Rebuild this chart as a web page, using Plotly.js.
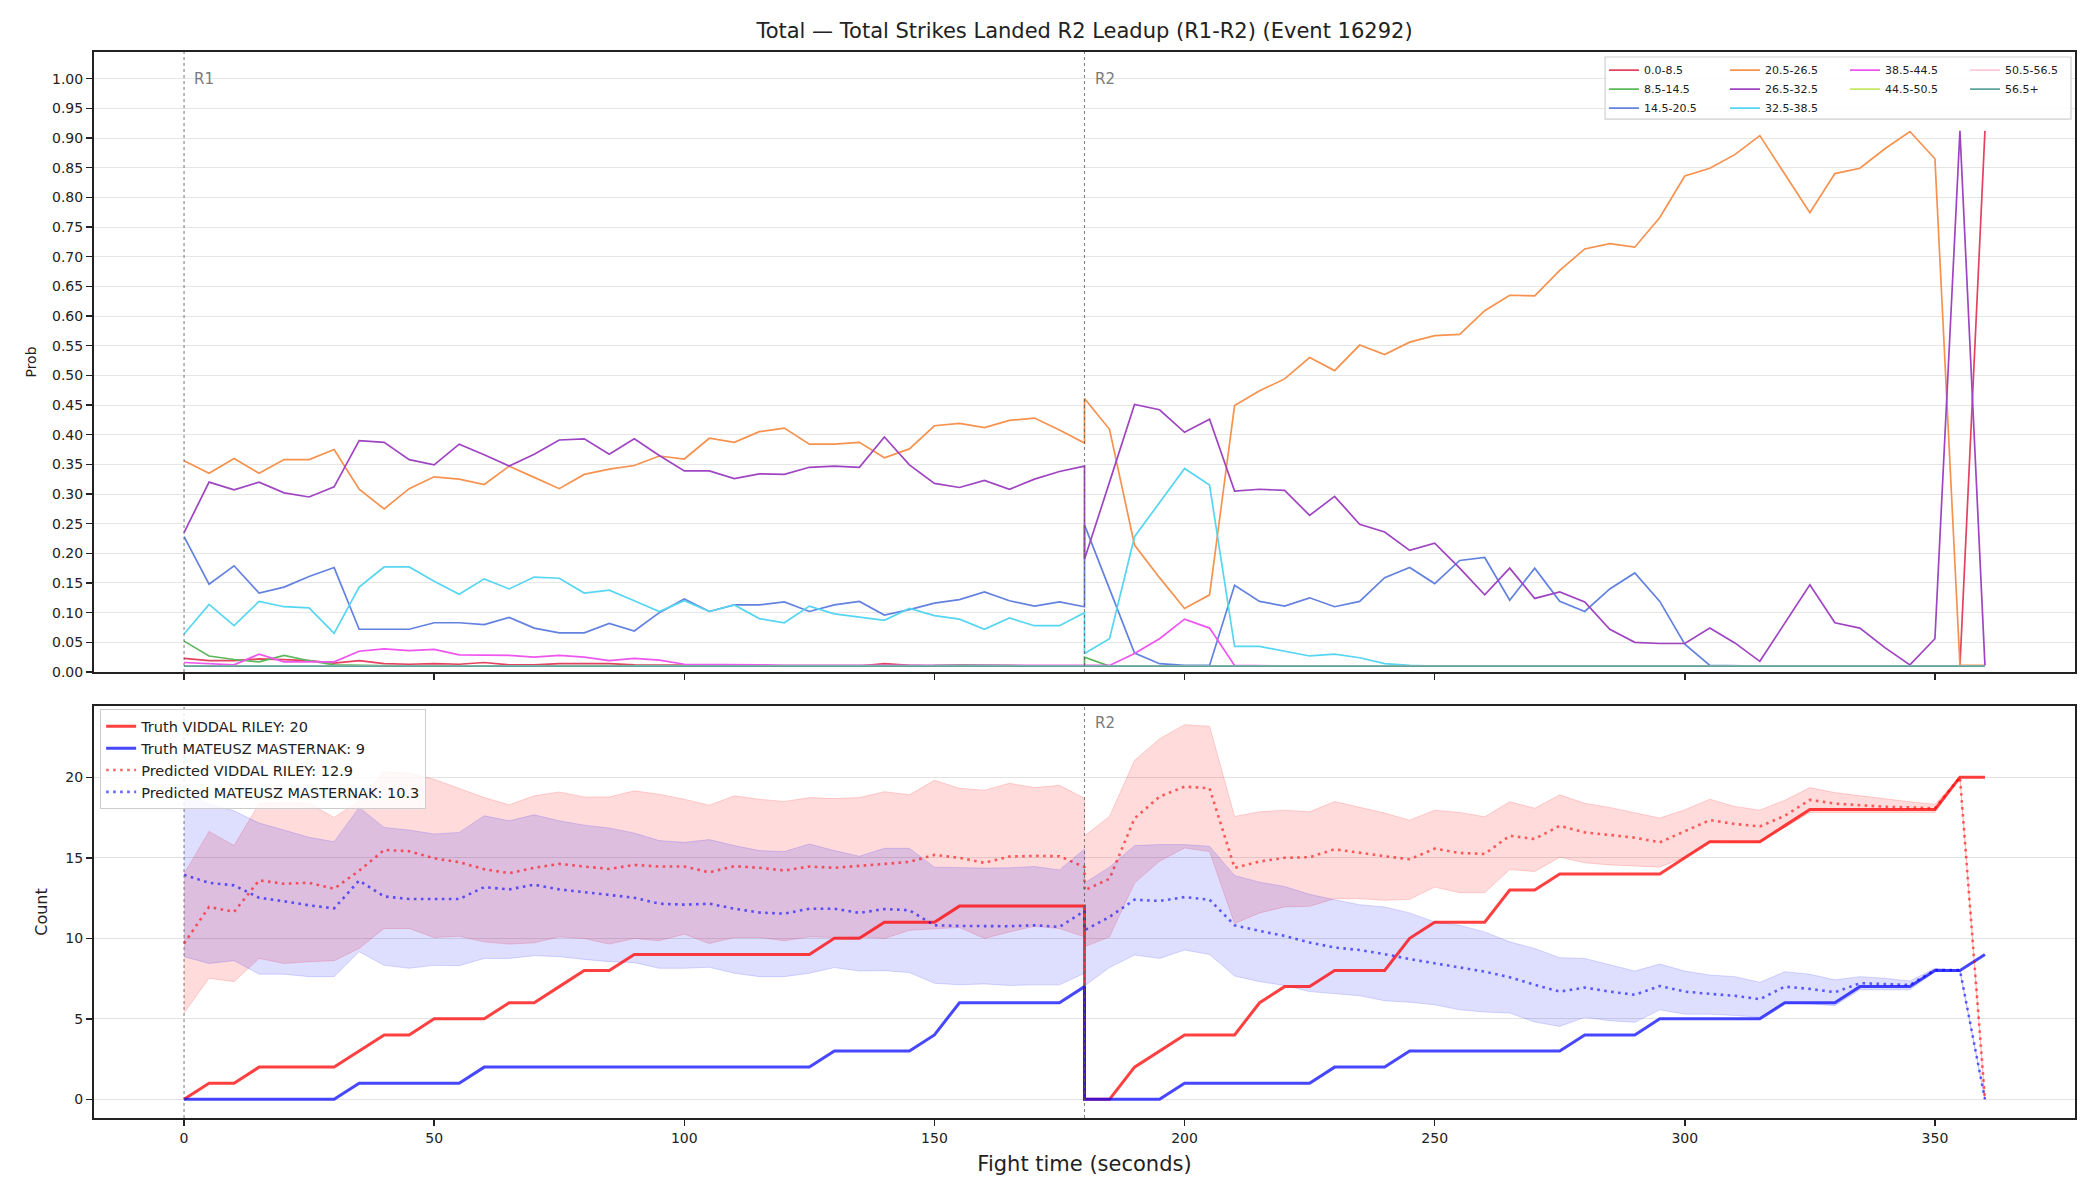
<!DOCTYPE html>
<html><head><meta charset="utf-8">
<script src="https://cdn.plot.ly/plotly-3.0.1.min.js"></script>
<style>html,body{margin:0;padding:0;background:#fff}</style>
</head><body><div id="chart" style="width:2100px;height:1200px"></div>
<script>
// ---------------- DATA ----------------
const chartTitle = 'Total — Total Strikes Landed R2 Leadup (R1-R2) (Event 16292)';
const roundLabels = ['R1', 'R2'];
const roundStarts = [0, 180];

const timeR1 = [0,5,10,15,20,25,30,35,40,45,50,55,60,65,70,75,80,85,90,95,100,105,110,115,120,125,130,135,140,145,150,155,160,165,170,175,180];
const timeR2 = [180,185,190,195,200,205,210,215,220,225,230,235,240,245,250,255,260,265,270,275,280,285,290,295,300,305,310,315,320,325,330,335,340,345,350,355,360];

const binLabels = ['0.0-8.5','8.5-14.5','14.5-20.5','20.5-26.5','26.5-32.5','32.5-38.5','38.5-44.5','44.5-50.5','50.5-56.5','56.5+'];

const pBin0R1 = [0.023,0.019,0.019,0.022,0.021,0.019,0.015,0.019,0.014,0.013,0.014,0.013,0.016,0.012,0.012,0.014,0.014,0.014,0.012,0.012,0.011,0.011,0.011,0.011,0.010,0.010,0.010,0.010,0.014,0.011,0.010,0.010,0.010,0.010,0.010,0.010,0.010];
const pBin0R2 = [0.01,0.01,0.01,0.01,0.01,0.01,0.01,0.01,0.01,0.01,0.01,0.01,0.01,0.01,0.01,0.01,0.01,0.01,0.01,0.01,0.01,0.01,0.01,0.01,0.01,0.01,0.01,0.01,0.01,0.01,0.01,0.01,0.01,0.01,0.01,0.01,0.912];

const pBin1R1 = [0.052,0.027,0.021,0.017,0.028,0.019,0.012,0.011,0.010,0.010,0.010,0.010,0.010,0.010,0.010,0.010,0.010,0.010,0.010,0.010,0.010,0.010,0.010,0.010,0.010,0.010,0.010,0.010,0.010,0.010,0.011,0.012,0.012,0.011,0.010,0.010,0.010];
const pBin1R2 = [0.025,0.01,0.01,0.01,0.01,0.01,0.01,0.01,0.01,0.01,0.01,0.01,0.01,0.01,0.01,0.01,0.01,0.01,0.01,0.01,0.01,0.01,0.01,0.01,0.01,0.01,0.01,0.01,0.01,0.01,0.01,0.01,0.01,0.01,0.01,0.01,0.01];

const pBin2R1 = [0.228,0.148,0.179,0.133,0.143,0.161,0.176,0.072,0.072,0.072,0.083,0.083,0.080,0.092,0.074,0.066,0.066,0.082,0.069,0.100,0.123,0.102,0.113,0.113,0.118,0.102,0.113,0.119,0.096,0.105,0.116,0.122,0.135,0.120,0.111,0.118,0.110];
const pBin2R2 = [0.248,0.140,0.032,0.014,0.011,0.011,0.146,0.119,0.111,0.125,0.110,0.119,0.159,0.176,0.149,0.188,0.193,0.121,0.175,0.119,0.102,0.140,0.167,0.119,0.047,0.011,0.010,0.010,0.010,0.010,0.010,0.010,0.010,0.010,0.010,0.010,0.010];

const pBin3R1 = [0.356,0.335,0.360,0.335,0.358,0.358,0.375,0.308,0.275,0.309,0.329,0.325,0.316,0.347,0.328,0.309,0.333,0.342,0.348,0.364,0.359,0.394,0.387,0.405,0.411,0.384,0.384,0.387,0.361,0.376,0.415,0.419,0.412,0.424,0.428,0.408,0.386];
const pBin3R2 = [0.461,0.409,0.214,0.159,0.107,0.130,0.449,0.474,0.494,0.530,0.508,0.551,0.535,0.556,0.567,0.569,0.609,0.635,0.634,0.677,0.713,0.722,0.716,0.766,0.836,0.849,0.872,0.904,0.839,0.774,0.840,0.849,0.882,0.911,0.865,0.011,0.011];

const pBin4R1 = [0.235,0.320,0.307,0.320,0.302,0.295,0.312,0.390,0.387,0.358,0.349,0.384,0.366,0.347,0.367,0.391,0.393,0.367,0.393,0.365,0.339,0.339,0.326,0.334,0.333,0.345,0.347,0.345,0.396,0.349,0.318,0.311,0.323,0.308,0.325,0.338,0.347];
const pBin4R2 = [0.190,0.320,0.451,0.442,0.404,0.426,0.305,0.308,0.306,0.264,0.296,0.249,0.236,0.205,0.217,0.175,0.130,0.175,0.124,0.135,0.118,0.072,0.050,0.048,0.048,0.074,0.049,0.018,0.083,0.147,0.083,0.074,0.041,0.012,0.056,0.912,0.011];

const pBin5R1 = [0.064,0.114,0.078,0.119,0.110,0.108,0.065,0.143,0.177,0.177,0.153,0.131,0.157,0.140,0.160,0.158,0.133,0.138,0.120,0.102,0.120,0.102,0.113,0.090,0.083,0.111,0.098,0.092,0.087,0.107,0.095,0.089,0.072,0.091,0.078,0.078,0.100];
const pBin5R2 = [0.031,0.056,0.228,0.286,0.343,0.315,0.043,0.043,0.035,0.027,0.030,0.024,0.014,0.011,0.01,0.01,0.01,0.01,0.01,0.01,0.01,0.01,0.01,0.01,0.01,0.01,0.01,0.01,0.01,0.01,0.01,0.01,0.01,0.01,0.01,0.01,0.01];

const pBin6R1 = [0.016,0.014,0.012,0.030,0.017,0.017,0.017,0.035,0.039,0.036,0.038,0.029,0.029,0.028,0.025,0.028,0.025,0.019,0.023,0.020,0.013,0.013,0.012,0.012,0.011,0.011,0.011,0.011,0.011,0.011,0.010,0.010,0.010,0.010,0.010,0.010,0.010];
const pBin6R2 = [0.010,0.011,0.031,0.056,0.089,0.074,0.011,0.01,0.01,0.01,0.01,0.01,0.01,0.01,0.01,0.01,0.01,0.01,0.01,0.01,0.01,0.01,0.01,0.01,0.01,0.01,0.01,0.01,0.01,0.01,0.01,0.01,0.01,0.01,0.01,0.01,0.01];

const pBin7R1 = [0.01,0.01,0.01,0.01,0.01,0.01,0.01,0.01,0.01,0.01,0.01,0.01,0.01,0.01,0.01,0.01,0.01,0.01,0.01,0.01,0.01,0.01,0.01,0.01,0.01,0.01,0.01,0.01,0.01,0.01,0.01,0.01,0.01,0.01,0.01,0.01,0.01];
const pBin7R2 = [0.01,0.01,0.01,0.01,0.01,0.01,0.01,0.01,0.01,0.01,0.01,0.01,0.01,0.01,0.01,0.01,0.01,0.01,0.01,0.01,0.01,0.01,0.01,0.01,0.01,0.01,0.01,0.01,0.01,0.01,0.01,0.01,0.01,0.01,0.01,0.01,0.01];
const pBin8R1 = [0.01,0.01,0.01,0.01,0.01,0.01,0.01,0.01,0.01,0.01,0.01,0.01,0.01,0.01,0.01,0.01,0.01,0.01,0.01,0.01,0.01,0.01,0.01,0.01,0.01,0.01,0.01,0.01,0.01,0.01,0.01,0.01,0.01,0.01,0.01,0.01,0.01];
const pBin8R2 = [0.01,0.01,0.01,0.01,0.01,0.01,0.01,0.01,0.01,0.01,0.01,0.01,0.01,0.01,0.01,0.01,0.01,0.01,0.01,0.01,0.01,0.01,0.01,0.01,0.01,0.01,0.01,0.01,0.01,0.01,0.01,0.01,0.01,0.01,0.01,0.01,0.01];
const pBin9R1 = [0.01,0.01,0.01,0.01,0.01,0.01,0.01,0.01,0.01,0.01,0.01,0.01,0.01,0.01,0.01,0.01,0.01,0.01,0.01,0.01,0.01,0.01,0.01,0.01,0.01,0.01,0.01,0.01,0.01,0.01,0.01,0.01,0.01,0.01,0.01,0.01,0.01];
const pBin9R2 = [0.01,0.01,0.01,0.01,0.01,0.01,0.01,0.01,0.01,0.01,0.01,0.01,0.01,0.01,0.01,0.01,0.01,0.01,0.01,0.01,0.01,0.01,0.01,0.01,0.01,0.01,0.01,0.01,0.01,0.01,0.01,0.01,0.01,0.01,0.01,0.01,0.01];

const fighterNames = ['VIDDAL RILEY', 'MATEUSZ MASTERNAK'];
const truthFinal = ['20', '9'];
const predFinal = ['12.9', '10.3'];

const truthRedR1 = [0,1,1,2,2,2,2,3,4,4,5,5,5,6,6,7,8,8,9,9,9,9,9,9,9,9,10,10,11,11,11,12,12,12,12,12,12];
const truthRedR2 = [0,0,2,3,4,4,4,6,7,7,8,8,8,10,11,11,11,13,13,14,14,14,14,14,15,16,16,16,17,18,18,18,18,18,18,20,20];
const truthBlueR1 = [0,0,0,0,0,0,0,1,1,1,1,1,2,2,2,2,2,2,2,2,2,2,2,2,2,2,3,3,3,3,4,6,6,6,6,6,7];
const truthBlueR2 = [0,0,0,0,1,1,1,1,1,1,2,2,2,3,3,3,3,3,3,3,4,4,4,5,5,5,5,5,6,6,6,7,7,7,8,8,9];

const predRedR1 = [9.68,11.95,11.64,13.6,13.39,13.45,13.08,14.2,15.49,15.41,14.97,14.73,14.29,14.05,14.38,14.62,14.46,14.31,14.56,14.46,14.46,14.1,14.48,14.38,14.21,14.46,14.38,14.48,14.62,14.75,15.18,15.0,14.69,15.08,15.12,15.10,14.42];
const predRedR2 = [12.98,13.7,17.45,18.8,19.42,19.32,14.38,14.77,15.0,15.04,15.53,15.3,15.1,14.91,15.57,15.3,15.24,16.37,16.17,16.99,16.58,16.42,16.25,15.96,16.66,17.34,17.1,16.95,17.61,18.6,18.37,18.25,18.17,18.13,18.08,20.0,0];
const predBlueR1 = [13.94,13.45,13.29,12.52,12.30,12.05,11.86,13.59,12.6,12.44,12.44,12.44,13.18,13.04,13.33,13.04,12.87,12.71,12.52,12.15,12.09,12.15,11.84,11.6,11.53,11.84,11.84,11.58,11.82,11.74,10.81,10.77,10.75,10.75,10.81,10.71,11.7];
const predBlueR2 = [10.5,11.33,12.4,12.32,12.56,12.4,10.81,10.46,10.15,9.74,9.43,9.27,9.02,8.71,8.44,8.2,7.93,7.58,7.11,6.69,6.94,6.69,6.49,7.04,6.69,6.55,6.43,6.22,7.0,6.86,6.65,7.21,7.15,7.11,8.03,8.03,0];

const redUpperR1 = [14.0,16.64,15.76,18.37,18.43,18.37,17.51,18.54,20.35,20.25,19.88,19.3,18.74,18.29,18.85,19.09,18.78,18.78,19.16,18.95,18.64,18.27,18.85,18.64,18.5,18.74,18.68,18.74,19.11,18.91,19.81,19.32,19.2,19.63,19.36,19.5,18.7];
const redUpperR2 = [16.37,17.57,21.05,22.39,23.27,23.17,17.57,17.86,17.96,17.86,18.5,18.13,17.78,17.34,17.96,17.82,17.55,18.48,18.08,18.91,18.39,18.13,17.82,17.47,17.98,18.64,18.19,17.96,18.58,19.36,19.05,18.85,18.68,18.48,18.33,20.0,0];
const redLowerR1 = [5.36,7.52,7.31,8.75,8.44,8.55,8.61,9.37,10.61,10.61,10.05,10.13,9.78,9.64,9.72,10.09,9.99,9.64,9.99,9.85,10.26,9.68,10.05,10.05,9.85,10.09,10.05,10.09,9.99,10.5,10.59,10.67,9.99,10.4,10.75,10.61,10.09];
const redLowerR2 = [9.47,10.09,13.43,14.79,15.61,15.39,10.92,11.58,11.95,11.99,12.46,12.46,12.36,12.42,13.18,12.83,12.83,14.27,14.15,15.04,14.69,14.56,14.48,14.42,15.04,16.02,15.96,15.96,16.89,17.82,17.82,17.82,17.82,17.82,17.82,20.0,0];
const blueUpperR1 = [19.16,18.33,17.92,17.16,16.72,16.27,16.0,18.13,16.89,16.72,16.48,16.58,17.61,17.3,17.67,17.3,17.03,16.85,16.54,16.07,15.96,16.13,15.76,15.45,15.39,15.86,15.45,15.1,15.59,15.59,14.42,14.38,14.36,14.38,14.46,14.25,15.55];
const blueUpperR2 = [13.43,14.42,15.76,15.82,15.82,15.72,13.9,13.49,13.22,12.73,12.4,12.09,11.95,11.58,11.02,10.81,10.4,9.78,9.37,8.8,8.75,8.38,7.97,8.4,7.97,7.72,7.62,7.27,7.93,7.77,7.42,7.62,7.52,7.35,8.14,8.03,0];
const blueLowerR1 = [8.86,8.44,8.61,7.77,7.77,7.62,7.62,9.17,8.32,8.14,8.32,8.3,8.75,8.75,8.92,8.86,8.69,8.55,8.49,8.14,8.14,8.2,7.83,7.62,7.62,7.83,8.18,7.97,7.99,7.87,7.21,7.11,7.17,7.07,7.11,7.11,7.83];
const blueLowerR2 = [7.04,8.18,8.96,8.75,9.27,9.0,7.66,7.31,7.07,6.69,6.55,6.43,6.12,6.03,5.87,5.56,5.42,5.36,4.8,4.53,5.09,4.88,4.78,5.56,5.29,5.29,5.21,5.09,5.97,5.93,5.81,6.8,6.8,6.8,7.93,7.93,0];

// ---------------- STYLE ----------------
const binColors = ['#e4425f','#5cb85c','#6382e0','#f6924e','#9f45c2','#56d6f1','#ef55ef','#c6e866','#f9c9d6','#5ea49c'];
const binLegend = ['legend2','legend2','legend2','legend3','legend3','legend3','legend4','legend4','legend5','legend5'];
const FONT = 'DejaVu Sans, Liberation Sans, sans-serif';

const time = timeR1.concat(timeR2);
const probR1 = [pBin0R1,pBin1R1,pBin2R1,pBin3R1,pBin4R1,pBin5R1,pBin6R1,pBin7R1,pBin8R1,pBin9R1];
const probR2 = [pBin0R2,pBin1R2,pBin2R2,pBin3R2,pBin4R2,pBin5R2,pBin6R2,pBin7R2,pBin8R2,pBin9R2];

const traces = [];
binLabels.forEach((lab, i) => {
  traces.push({
    type: 'scatter', mode: 'lines', x: time, y: probR1[i].concat(probR2[i]),
    name: lab, xaxis: 'x', yaxis: 'y', legend: binLegend[i],
    line: {color: binColors[i], width: 1.7}, hoverinfo: 'skip'
  });
});

// bands
function band(lower, upper, fill, edge) {
  traces.push({type:'scatter', mode:'lines', x: time, y: lower, xaxis:'x2', yaxis:'y2',
    line:{color: edge, width: 1}, showlegend:false, hoverinfo:'skip'});
  traces.push({type:'scatter', mode:'lines', x: time, y: upper, xaxis:'x2', yaxis:'y2',
    fill:'tonexty', fillcolor: fill, line:{color: edge, width: 1}, showlegend:false, hoverinfo:'skip'});
}
band(redLowerR1.concat(redLowerR2), redUpperR1.concat(redUpperR2), 'rgba(255,0,0,0.14)', 'rgba(255,0,0,0.16)');
band(blueLowerR1.concat(blueLowerR2), blueUpperR1.concat(blueUpperR2), 'rgba(0,0,255,0.13)', 'rgba(0,0,255,0.14)');

traces.push({type:'scatter', mode:'lines', x: time, y: truthRedR1.concat(truthRedR2), xaxis:'x2', yaxis:'y2',
  name: 'Truth ' + fighterNames[0] + ': ' + truthFinal[0], legend:'legend', legendrank: 1, line:{color:'rgba(255,0,0,0.75)', width:3}});
traces.push({type:'scatter', mode:'lines', x: time, y: truthBlueR1.concat(truthBlueR2), xaxis:'x2', yaxis:'y2',
  name: 'Truth ' + fighterNames[1] + ': ' + truthFinal[1], legend:'legend', legendrank: 2, line:{color:'rgba(0,0,255,0.72)', width:3}});
traces.push({type:'scatter', mode:'lines', x: time, y: predRedR1.concat(predRedR2), xaxis:'x2', yaxis:'y2',
  name: 'Predicted ' + fighterNames[0] + ': ' + predFinal[0], legend:'legend', legendrank: 3, line:{color:'rgba(255,0,0,0.6)', width:2.6, dash:'2.6px,4.4px'}});
traces.push({type:'scatter', mode:'lines', x: time, y: predBlueR1.concat(predBlueR2), xaxis:'x2', yaxis:'y2',
  name: 'Predicted ' + fighterNames[1] + ': ' + predFinal[1], legend:'legend', legendrank: 4, line:{color:'rgba(0,0,255,0.6)', width:2.6, dash:'2.6px,4.4px'}});

const axisCommon = {
  showline: true, mirror: true, linecolor: '#222', linewidth: 2,
  ticks: 'outside', ticklen: 6, tickwidth: 1.4, tickcolor: '#222',
  zeroline: false, tickfont: {family: FONT, size: 14, color: '#222'}
};
const xTicks = [0,50,100,150,200,250,300,350];

const shapes = [];
const annotations = [];
roundStarts.forEach((t, i) => {
  ['y domain','y2 domain'].forEach((yr, k) => {
    shapes.push({type:'line', xref: k ? 'x2' : 'x', yref: yr, x0: t, x1: t, y0: 0, y1: 1,
      line: {color: 'rgba(90,90,90,0.75)', width: 1.1, dash: 'dot'}, layer: 'above'});
  });
  annotations.push({xref:'x', yref:'y domain', x: t, y: 0.956, text: roundLabels[i], showarrow:false,
    xanchor:'left', yanchor:'middle', xshift: 8, font:{family: FONT, size: 15, color:'#7a7a7a'}});
});
annotations.push({xref:'x2', yref:'y2 domain', x: roundStarts[1], y: 0.959, text: roundLabels[1], showarrow:false,
  xanchor:'left', yanchor:'middle', xshift: 8, font:{family: FONT, size: 15, color:'#7a7a7a'}});

// top legend frame
shapes.push({type:'rect', xref:'paper', yref:'paper', x0: 0.7628, x1: 0.998, y0: 0.9371, y1: 0.9953,
  fillcolor:'rgba(255,255,255,0.85)', line:{color:'#d0d0d0', width:1.2}, layer:'above'});

const topLegend = (x) => ({x: x, y: 0.9966, xanchor:'left', yanchor:'top', orientation:'v', traceorder: 'normal',
  bgcolor:'rgba(0,0,0,0)', borderwidth:0, font:{family: FONT, size: 11, color:'#222'}, tracegroupgap: 0, itemwidth: 30});

const layout = {
  width: 2100, height: 1200,
  margin: {l: 94, r: 25, t: 52, b: 82},
  paper_bgcolor: '#fff', plot_bgcolor: '#fff',
  font: {family: FONT, size: 14, color: '#222'},
  title: {text: chartTitle, x: 0.5, xref: 'paper', xanchor: 'center', y: 1 - 31/1200, yref: 'container', yanchor: 'middle',
    font: {family: FONT, size: 21, color: '#222'}},
  xaxis: Object.assign({}, axisCommon, {domain:[0,1], anchor:'y', range:[-18, 378], tickvals: xTicks, showticklabels:false, showgrid:false}),
  yaxis: Object.assign({}, axisCommon, {domain:[0.4184, 1], anchor:'x', range:[0, 1.045], tick0: 0, dtick: 0.05, tickformat: '.2f',
    showgrid: true, gridcolor: '#e6e6e6', gridwidth: 1,
    title: {text: 'Prob', font: {family: FONT, size: 14, color:'#222'}, standoff: 12}}),
  xaxis2: Object.assign({}, axisCommon, {domain:[0,1], anchor:'y2', range:[-18, 378], tickvals: xTicks, showgrid:false,
    title: {text: 'Fight time (seconds)', font: {family: FONT, size: 21, color:'#222'}, standoff: 12}}),
  yaxis2: Object.assign({}, axisCommon, {domain:[0, 0.3865], anchor:'x2', range:[-1.16, 24.43], tickvals:[0,5,10,15,20],
    showgrid: true, gridcolor: '#e2e2e2', gridwidth: 1,
    title: {text: 'Count', font: {family: FONT, size: 16, color:'#222'}, standoff: 14}}),
  legend: {x: 0.003, y: 0.3835, xanchor:'left', yanchor:'top', orientation:'v', traceorder: 'normal',
    bgcolor:'rgba(255,255,255,0.82)', bordercolor:'#cccccc', borderwidth:1.2,
    font:{family: FONT, size: 14.5, color:'#222'}, tracegroupgap: 0},
  legend2: topLegend(0.7622),
  legend3: topLegend(0.8233),
  legend4: topLegend(0.8839),
  legend5: topLegend(0.9445),
  shapes: shapes,
  annotations: annotations,
  hovermode: false
};

Plotly.newPlot('chart', traces, layout, {staticPlot: true, displayModeBar: false});
</script></body></html>
